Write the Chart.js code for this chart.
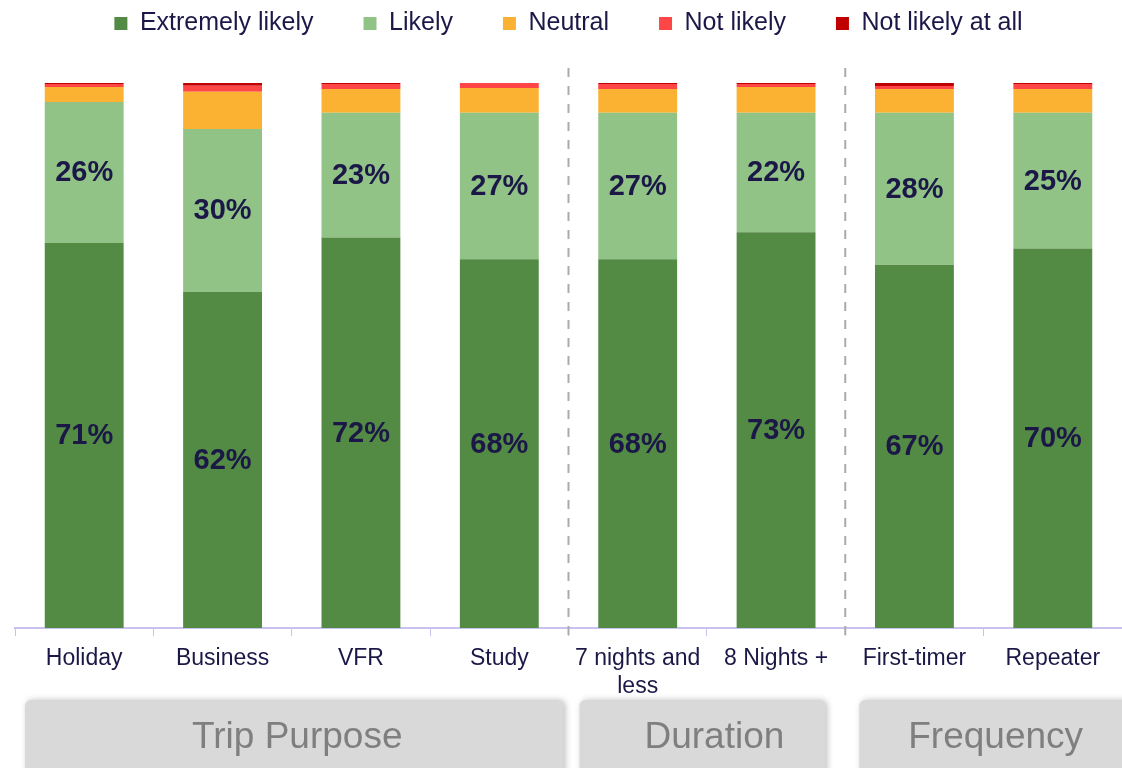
<!DOCTYPE html>
<html>
<head>
<meta charset="utf-8">
<script src="https://cdn.jsdelivr.net/npm/chart.js@4.4.1/dist/chart.umd.min.js"></script>
<style>
  html, body { margin: 0; padding: 0; background: #fff; }
  #wrap { width: 1122px; height: 768px; position: relative; }
</style>
</head>
<body>
<div id="wrap"><canvas id="likely"></canvas></div>
<script>
const categories = ['Holiday', 'Business', 'VFR', 'Study', ['7 nights and', 'less'], '8 Nights +', 'First-timer', 'Repeater'];
const extremelyLikely = [71, 62, 72, 68, 68, 73, 67, 70];
const likely = [26, 30, 23, 27, 27, 22, 28, 25];
const neutral = [2.75, 6.9, 4.4, 4.6, 4.4, 4.75, 4.4, 4.4];
const notLikely = [0.55, 1.1, 0.9, 0.9, 0.9, 0.55, 0.55, 0.9];
const notLikelyAtAll = [0.2, 0.5, 0.2, 0, 0.2, 0.2, 0.55, 0.2];

// section boxes under the axis, each spanning a number of categories
const groups = ['Trip Purpose', 'Duration', 'Frequency'];
const groupSpans = [4, 2, 2];

const navy = '#1b1848';

// percentage labels inside the two green segments
const valueLabels = {
  id: 'valueLabels',
  afterDatasetsDraw(chart) {
    const ctx = chart.ctx;
    ctx.save();
    ctx.font = 'bold 29px Arial, "Liberation Sans", sans-serif';
    ctx.fillStyle = navy;
    ctx.textAlign = 'center';
    ctx.textBaseline = 'middle';
    [0, 1].forEach(di => {
      const meta = chart.getDatasetMeta(di);
      meta.data.forEach((bar, i) => {
        const v = chart.data.datasets[di].data[i];
        ctx.fillText(v + '%', bar.x, (bar.y + bar.base) / 2 + 1);
      });
    });
    ctx.restore();
  }
};

// dashed separators between sections and grey boxes with section names
const sections = {
  id: 'sections',
  afterDraw(chart) {
    const ctx = chart.ctx;
    const x = chart.scales.x;
    const area = chart.chartArea;
    const step = x.getPixelForValue(1) - x.getPixelForValue(0);
    let start = 0;
    const bounds = [x.getPixelForValue(0) - step / 2];
    groupSpans.forEach(n => {
      start += n;
      bounds.push(x.getPixelForValue(start - 1) + step / 2);
    });

    ctx.save();
    ctx.strokeStyle = '#ababab';
    ctx.lineWidth = 2;
    ctx.setLineDash([9, 9]);
    for (let i = 1; i < bounds.length - 1; i++) {
      ctx.beginPath();
      ctx.moveTo(bounds[i], area.top - 15);
      ctx.lineTo(bounds[i], area.bottom + 12);
      ctx.stroke();
    }
    ctx.restore();

    // left/right insets of each box and a nudge for its caption
    const pads = [[10, 5, 3], [11, 20, 12], [14, -10, 5]];
    groups.forEach((name, i) => {
      const l = bounds[i] + pads[i][0];
      const r = bounds[i + 1] - pads[i][1];
      const top = 700;
      ctx.save();
      ctx.shadowColor = 'rgba(0,0,0,0.25)';
      ctx.shadowBlur = 6;
      ctx.shadowOffsetX = 2;
      ctx.fillStyle = '#d9d9d9';
      ctx.beginPath();
      ctx.roundRect(l, top, r - l, 90, 6);
      ctx.fill();
      ctx.restore();
      ctx.save();
      ctx.fillStyle = '#7f7f7f';
      ctx.font = '37px Arial, "Liberation Sans", sans-serif';
      ctx.textAlign = 'center';
      ctx.textBaseline = 'middle';
      const right = Math.min(r, chart.width);
      ctx.fillText(name, (l + right) / 2 + pads[i][2], 738);
      ctx.restore();
    });
  }
};

// fixed legend height so the bars start at the right place
const legendHeight = {
  id: 'legendHeight',
  beforeInit(chart) {
    const fit = chart.legend.fit;
    chart.legend.fit = function () {
      fit.bind(chart.legend)();
      this.height = 122;
    };
  }
};

new Chart(document.getElementById('likely'), {
  type: 'bar',
  data: {
    labels: categories,
    datasets: [
      { label: 'Extremely likely', data: extremelyLikely, backgroundColor: '#538a44' },
      { label: 'Likely', data: likely, backgroundColor: '#92c386' },
      { label: 'Neutral', data: neutral, backgroundColor: '#fbb233' },
      { label: 'Not likely', data: notLikely, backgroundColor: '#ff4646' },
      { label: 'Not likely at all', data: notLikelyAtAll, backgroundColor: '#c00000' }
    ]
  },
  options: {
    responsive: true,
    maintainAspectRatio: false,
    animation: false,
    categoryPercentage: 1,
    barPercentage: 0.57,
    layout: { padding: { left: 15, right: 0, top: -39, bottom: 0 } },
    scales: {
      x: {
        stacked: true,
        grid: {
          drawOnChartArea: false,
          drawTicks: true,
          tickLength: 8,
          color: '#c9c2f0'
        },
        border: { color: '#c9c2f0', width: 2 },
        ticks: {
          color: navy,
          font: { family: 'Arial, "Liberation Sans", sans-serif', size: 23 },
          padding: 9,
          maxRotation: 0,
          autoSkip: false
        },
        afterFit(scale) { scale.height = 140; }
      },
      y: {
        stacked: true,
        display: false,
        min: 0,
        max: 100.5
      }
    },
    plugins: {
      legend: {
        position: 'top',
        labels: {
          boxWidth: 13,
          boxHeight: 13,
          padding: 50,
          color: navy,
          font: { family: 'Arial, "Liberation Sans", sans-serif', size: 25 }
        }
      },
      tooltip: { enabled: false }
    }
  },
  plugins: [valueLabels, sections, legendHeight]
});
</script>
</body>
</html>
